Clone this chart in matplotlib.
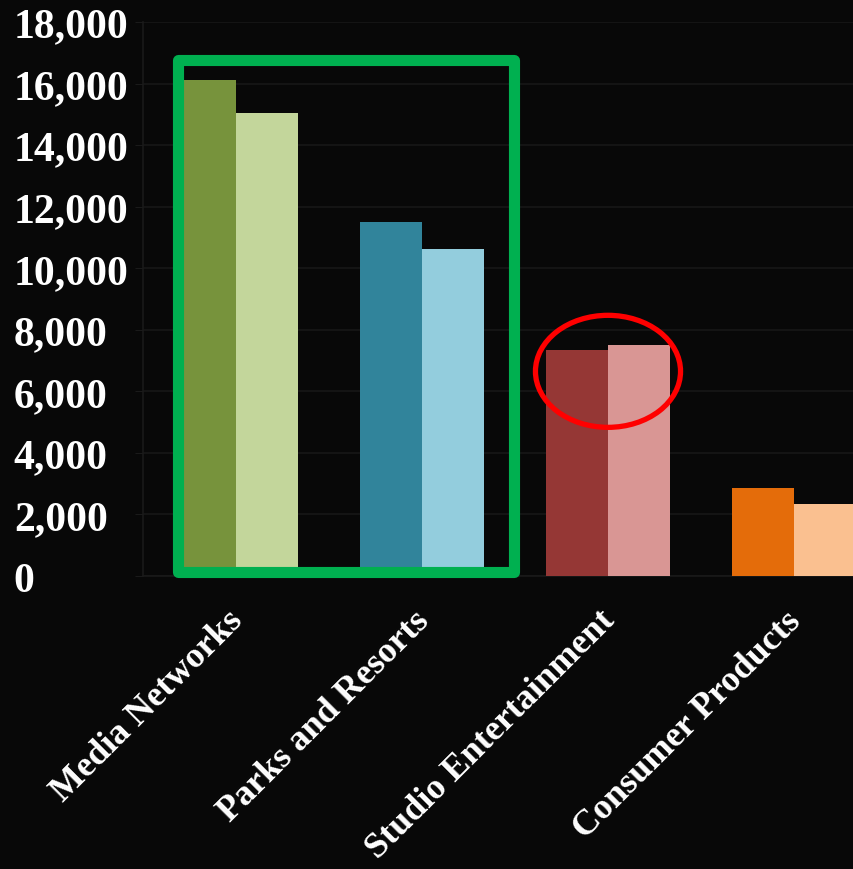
#!/usr/bin/env python3

import matplotlib
matplotlib.use('Agg')
import matplotlib.pyplot as plt
import matplotlib.transforms as mtrans
from matplotlib.patches import Rectangle, Ellipse
from matplotlib.ticker import FuncFormatter
import numpy as np

# segment revenue, two years per segment
segments = ['Media Networks', 'Parks and Resorts', 'Studio Entertainment', 'Consumer Products']
rev_2008 = [16116, 11504, 7348, 2875]
rev_2007 = [15046, 10626, 7491, 2347]
dark_colors = ['#77933c', '#31849b', '#953735', '#e46c0a']
light_colors = ['#c3d69b', '#93cddd', '#d99694', '#fac090']
yticks = list(range(0, 18001, 2000))

bg = '#080808'
fig = plt.figure(figsize=(8.54, 8.70), dpi=100, facecolor=bg)
# right edge runs past the figure, like the cropped original
ax = fig.add_axes([143 / 854, 293 / 870, 744 / 854, 554 / 870])
ax.set_facecolor(bg)

x = np.arange(len(segments))
w = 1 / 3
ax.bar(x - w / 2, rev_2008, width=w, color=dark_colors, zorder=3)
ax.bar(x + w / 2, rev_2007, width=w, color=light_colors, zorder=3)

ax.set_xlim(-0.5, len(segments) - 0.5)
ax.set_ylim(0, 18000)
ax.set_yticks(yticks)
ax.yaxis.set_major_formatter(FuncFormatter(lambda v, p: f'{int(v):,}'))
ax.grid(axis='y', color='#141414', linewidth=1.5, zorder=0)

for s in ['top', 'right']:
    ax.spines[s].set_visible(False)
for s in ['left', 'bottom']:
    ax.spines[s].set_color('#1a1a1a')
    ax.spines[s].set_linewidth(1.2)

ax.tick_params(axis='y', colors='#1a1a1a', length=6, pad=87,
               labelcolor='white', labelsize=30)
for lbl in ax.get_yticklabels():
    lbl.set_fontfamily('Liberation Serif')
    lbl.set_fontweight('bold')
    lbl.set_ha('left')

ax.set_xticks(x)
ax.set_xticklabels(segments, rotation=45, ha='right', fontsize=26,
                   fontfamily='Liberation Serif', fontweight='bold', color='white')
ax.tick_params(axis='x', length=0, pad=20)
shift = mtrans.ScaledTranslation(14 / 100, 0, fig.dpi_scale_trans)
for lbl in ax.get_xticklabels():
    lbl.set_transform(lbl.get_transform() + shift)

# highlight box around the first two segments
ax.add_patch(Rectangle((-0.312, 146), 1.804, 16634, fill=False,
                       edgecolor='#00b050', linewidth=8, joinstyle='round',
                       zorder=5, clip_on=False))
# circle on studio entertainment
ax.add_patch(Ellipse((2.0, 6650), 0.78, 3640, fill=False,
                     edgecolor='#ff0000', linewidth=3.8, zorder=5))

fig.savefig('out.png', dpi=100, facecolor=bg)
